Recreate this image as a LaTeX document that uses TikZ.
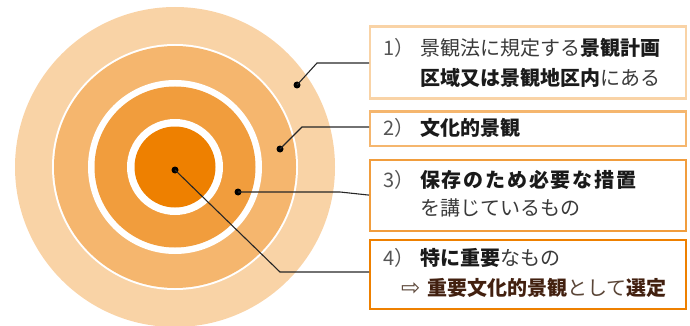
\documentclass[tikz,border=0pt]{standalone}
\usepackage{fontspec}
\newfontfamily\jp{Noto Sans CJK JP}
\newfontfamily\arrowfont{DejaVu Sans}
\definecolor{ringA}{HTML}{F9D3A6}
\definecolor{ringB}{HTML}{F5B66E}
\definecolor{ringC}{HTML}{F19D3D}
\definecolor{ringD}{HTML}{EE8000}
\definecolor{numgray}{HTML}{555555}
\definecolor{reggray}{HTML}{3A3A3A}
\definecolor{boldblack}{HTML}{1A1A1A}
\definecolor{brownbold}{HTML}{42200F}
\definecolor{brownreg}{HTML}{5B4638}
\tikzset{
  txt/.style={inner sep=0pt, anchor=base west, font=\jp\fontsize{20}{24}\selectfont, text=reggray},
  infobox/.style={draw, line width=2.2pt, fill=white, rectangle, inner sep=0pt, minimum width=316pt, anchor=north west},
  dotnode/.style={circle, fill=black, inner sep=0pt, minimum size=7pt},
  conn/.style={draw=black!85, line width=1.1pt}
}
\begin{document}
\begin{tikzpicture}[x=1pt,y=-1pt]
\useasboundingbox (0,0) rectangle (690,326);
% rings
\fill[ringA] (175,167) circle (160);
\fill[white] (175,167) circle (123);
\fill[ringB] (175,167) circle (121);
\fill[white] (175,167) circle (87);
\fill[ringC] (175,167) circle (80.5);
\fill[white] (175,167) circle (48);
\fill[ringD] (175,167) circle (40.5);
% boxes
\node[infobox, draw=ringA, minimum height=72pt] (b1) at (369,25.5) {};
\node[infobox, draw=ringB, minimum height=34pt] (b2) at (369,110.5) {};
\node[infobox, draw=ringC, minimum height=71pt] (b3) at (369,158.5) {};
\node[infobox, draw=ringD, minimum height=69pt] (b4) at (369,238.5) {};
% texts
\node[txt, text=numgray] (n1) at (383,55.5) {1）};
\node[txt] (t1a) at (420,55.5) {景観法に規定する\textcolor{boldblack}{\bfseries 景観計画}};
\node[txt] (t1b) at (420,85.5) {\textcolor{boldblack}{\bfseries 区域又は景観地区内}にある};
\node[txt, text=numgray] (n2) at (383,135.5) {2）};
\node[txt, text=boldblack, font=\jp\bfseries\fontsize{20}{24}\selectfont] (t2) at (420,135.5) {文化的景観};
\node[txt, text=numgray] (n3) at (383,187.5) {3）};
\node[txt, text=boldblack, font=\jp\bfseries\fontsize{20}{24}\selectfont\addfontfeature{LetterSpace=9}] (t3a) at (420,187.5) {保存のため必要な措置};
\node[txt] (t3b) at (420,215.5) {を講じているもの};
\node[txt, text=numgray] (n4) at (383,265.5) {4）};
\node[txt] (t4a) at (420,265.5) {\textcolor{boldblack}{\bfseries 特に重要}なもの};
\node[txt, text=brownreg, font=\arrowfont\fontsize{23}{26}\selectfont] (ar) at (401,295) {⇨};
\node[txt, text=brownreg] (t4b) at (427,295) {\textcolor{brownbold}{\bfseries 重要文化的景観}として\textcolor{brownbold}{\bfseries 選定}};
% dots
\node[dotnode] (d1) at (297,85) {};
\node[dotnode] (d2) at (280,149) {};
\node[dotnode] (d3) at (238,192) {};
\node[dotnode] (d4) at (175,170) {};
% bends
\coordinate (k1) at (317,63);
\coordinate (k2) at (302,127);
\coordinate (k3) at (340,192);
\coordinate (k4) at (280,272);
\draw[conn] (d1.center) -- (k1) -- (k1 -| b1.west);
\draw[conn] (d2.center) -- (k2) -- (k2 -| b2.west);
\draw[conn] (d3.center) -- (k3) -- (b3.west);
\draw[conn] (d4.center) -- (k4) -- (k4 -| b4.west);
\end{tikzpicture}
\end{document}
